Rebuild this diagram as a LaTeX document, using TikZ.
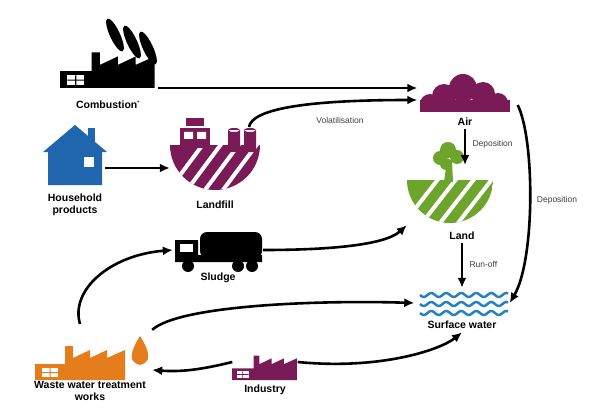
\documentclass[tikz,border=0pt]{standalone}
\usepackage{fontspec}
\setmainfont{Liberation Sans}
\usetikzlibrary{arrows.meta}
\definecolor{plum}{HTML}{7A1B57}
\definecolor{grass}{HTML}{6DA42C}
\definecolor{roof}{HTML}{1F66AE}
\definecolor{rust}{HTML}{E57D1C}
\definecolor{sea}{HTML}{2383C0}
\tikzset{
    flow/.style={-{Latex[length=10pt,width=9pt]}, line width=2.6pt},
    lbl/.style={font=\bfseries\fontsize{10.5}{12}\selectfont, align=center},
    note/.style={font=\fontsize{8.5}{10}\selectfont, text=black!75},
    icon/.style={minimum width=#1, inner sep=0pt}
}
% factory drawn with its bottom-left corner at (#1,#2)
\newcommand{\factory}[4]{
    \begin{scope}[shift={(#1,#2)}, scale=#3]
        \fill[#4] (0,0) -- (0,-16) -- (30,-16) -- (30,-34) -- (38,-34) -- (38,-22)
            -- (55,-30) -- (55,-22) -- (72,-30) -- (72,-22) -- (90,-30) -- (90,0) -- cycle;
        \fill[white] (7,-12) rectangle (23,-3);
        \fill[#4] (14.5,-12) rectangle (15.5,-3) (7,-8) rectangle (23,-7);
    \end{scope}
}
\newcommand{\field}[4]{
    \begin{scope}
        \clip (#1,#2) circle [radius=#3];
        \fill[#4] (#1-#3,#2) rectangle (#1+#3,#2+#3);
        \foreach \k in {-2,...,2}
            \draw[white, line width=4pt] (#1+\k*18-10,#2+#3) -- (#1+\k*18+25,#2-2);
    \end{scope}
}
\begin{document}
\begin{tikzpicture}[x=1pt, y=-1pt]
    \useasboundingbox (0,0) rectangle (602,417);

    % Combustion
    \factory{60}{88}{1.05}{black}
    \foreach \a/\b in {115/35,132/42,148/48}
        \fill[black, rotate around={-65:(\a,\b)}] (\a,\b) ellipse [x radius=18, y radius=5];
    \node[icon=100pt, minimum height=75pt] (comb) at (108,55) {};
    \node[lbl] (combt) at (108,105) {Combustion\textsuperscript{\tiny*}};

    % Household products
    \fill[roof] (48,185) -- (48,152) -- (43,152) -- (75,125) -- (107,152) -- (102,152) -- (102,185) -- cycle;
    \fill[roof] (88,128) rectangle (95,142);
    \fill[white] (84,157) rectangle (94,167);
    \node[icon=60pt, minimum height=60pt] (house) at (75,155) {};
    \node[lbl] (houset) at (75,205) {Household\\products};

    % Landfill
    \field{215}{145}{45}{plum}
    \fill[plum] (180,128) rectangle (210,148);
    \fill[white] (184,132) rectangle (193,139) (197,132) rectangle (206,139);
    \fill[plum] (186,118) rectangle (204,126);
    \foreach \c in {234,250}
        \fill[plum] (\c-6,130) rectangle (\c+6,152) (\c,130) ellipse [x radius=6, y radius=2];
    \node[icon=90pt, minimum height=75pt] (landfill) at (215,152) {};
    \coordinate (vol) at (249,127);
    \node[lbl] (landfillt) at (215,205) {Landfill};

    % Air
    \begin{scope}
        \clip (410,60) rectangle (520,112);
        \foreach \x/\y/\r in {430/104/10,444/96/12,463/88/14,483/94/12,498/103/10}
            \fill[plum] (\x,\y) circle [radius=\r];
        \fill[plum] (420,100) rectangle (510,112);
    \end{scope}
    \node[icon=95pt, minimum height=40pt] (air) at (465,93) {};
    \node[lbl] (airt) at (465,122) {Air};

    % Land
    \field{450}{180}{43}{grass}
    \fill[grass] (444,182) -- (447,160) -- (452,160) -- (453,182) -- cycle;
    \foreach \x/\y/\r in {440/158/7,448/150/8,457/157/7,446/164/6}
        \fill[grass] (\x,\y) circle [radius=\r];
    \node[icon=90pt, minimum height=90pt] (land) at (452,180) {};
    \coordinate (landtop) at (465,165);
    \node[lbl] (landt) at (462,236) {Land};

    % Surface water
    \foreach \y in {295,304,313}
        \draw[sea, line width=2.5pt, domain=420:508, samples=60] plot (\x, {\y+2*sin(\x*24)});
    \node[icon=95pt, minimum height=30pt] (water) at (462,303) {};
    \node[lbl] (watert) at (462,325) {Surface water};

    % Sludge
    \fill[black, rounded corners=7pt] (200,232) rectangle (262,258);
    \fill[black] (175,240) rectangle (198,262) (175,255) rectangle (262,262);
    \fill[white] (180,244) rectangle (193,252);
    \foreach \x in {188,238,252}
        \fill[black] (\x,266) circle [radius=6];
    \node[icon=90pt, minimum height=42pt] (sludge) at (218,250) {};
    \node[lbl] (sludget) at (218,278) {Sludge};

    % Waste water treatment works
    \factory{35}{380}{1.0}{rust}
    \fill[rust] (140,336) .. controls (130,352) and (128,362) .. (140,365)
        .. controls (152,362) and (150,352) .. (140,336) -- cycle;
    \node[icon=120pt, minimum height=50pt] (wwtw) at (92,355) {};
    \coordinate (wwtwtop) at (80,324);
    \node[lbl] (wwtwt) at (90,391) {Waste water treatment\\works};

    % Industry
    \factory{232}{380}{0.72}{plum}
    \node[icon=65pt, minimum height=35pt] (ind) at (265,362) {};
    \node[lbl] (indt) at (265,390) {Industry};

    % Flows
    \draw[flow] (comb.east |- 0,88) -- (air.west |- 0,88);
    \draw[flow] (vol) .. controls (252,110) and (300,100) .. (air.west |- 0,100);
    \node[note] (volt) at (340,120) {Volatilisation};
    \draw[flow] (house.east |- 0,168) -- (landfill.west |- 0,168);
    \draw[flow] (airt.south) -- (landtop);
    \node[note, anchor=west] (dep1) at (469,144) {Deposition};
    \draw[flow] (air.east) ++(5,12) .. controls (535,140) and (535,260) .. (water.east);
    \node[note] (dep2) at (557,200) {Deposition};
    \draw[flow] (landt.south) -- (water.north -| landt.south);
    \node[note, anchor=west] (runt) at (466,264) {Run-off};
    \draw[flow] (sludge.east) .. controls (330,250) and (385,245) .. (land.south west);
    \draw[flow] (wwtwtop) .. controls (70,290) and (110,255) .. (sludge.west);
    \draw[flow] (wwtw.north east) .. controls (180,305) and (320,300) .. (water.west);
    \draw[flow] (ind.west) .. controls (200,370) and (180,372) .. (wwtw.east |- 0,370);
    \draw[flow] (ind.east) .. controls (380,370) and (440,350) .. (watert.south);
\end{tikzpicture}
\end{document}
